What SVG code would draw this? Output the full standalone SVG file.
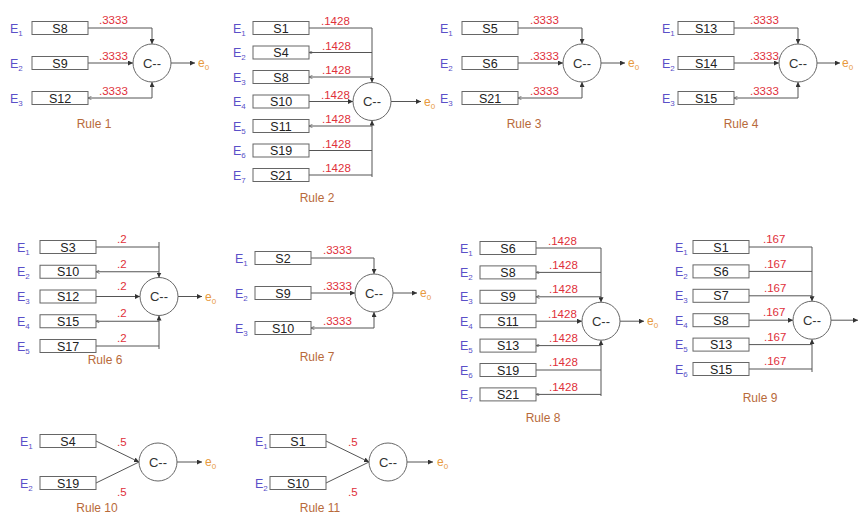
<svg xmlns="http://www.w3.org/2000/svg" width="860" height="514" viewBox="0 0 860 514">
<style>
text{font-family:"Liberation Sans",Arial,sans-serif}
.bx{fill:#fff;stroke:#666;stroke-width:1}
.bt{font-size:12.5px;fill:#222;text-anchor:middle}
.el{font-size:12.5px;fill:#5a50c8}
.sb{font-size:8px}
.cc{fill:#fff;stroke:#666;stroke-width:1}
.ct{font-size:13px;fill:#333;text-anchor:middle}
.ln{fill:none;stroke:#555;stroke-width:1}
.w{font-size:11.5px;fill:#e0303a}
.eo{font-size:12px;fill:#e89a3c}
.rt{font-size:12px;fill:#b86a3a;text-anchor:middle}
</style>
<defs>
<marker id="arr" viewBox="0 0 6 6" refX="6" refY="3" markerWidth="5" markerHeight="5" orient="auto"><path d="M0,0 L6,3 L0,6 z" fill="#333"/></marker>
<marker id="tip" viewBox="0 0 6 6" refX="0" refY="3" markerWidth="3.5" markerHeight="3.5" orient="auto"><path d="M6,0 L0,3 L6,6" fill="none" stroke="#555" stroke-width="1.2"/></marker>
</defs>
<rect width="860" height="514" fill="#fff"/>

<g id="connectors">
<path class="ln" d="M88,28 H152 V44" marker-end="url(#arr)"/>
<path class="ln" d="M88,63 H133" marker-end="url(#arr)"/>
<path class="ln" d="M88,98 H152 V82" marker-start="url(#tip)" marker-end="url(#arr)"/>
<path class="ln" d="M171,63 H195" marker-end="url(#arr)"/>
<path class="ln" d="M309,28 H372 V82.5" marker-end="url(#arr)"/>
<path class="ln" d="M309,52.5 H372" marker-start="url(#tip)"/>
<path class="ln" d="M309,77 H372" marker-start="url(#tip)"/>
<path class="ln" d="M309,101.5 H353" marker-end="url(#arr)"/>
<path class="ln" d="M372,177 V120.5" marker-end="url(#arr)"/>
<path class="ln" d="M309,126 H372" marker-start="url(#tip)"/>
<path class="ln" d="M309,150.5 H372"/>
<path class="ln" d="M309,175 H372"/>
<path class="ln" d="M391,101.5 H421" marker-end="url(#arr)"/>
<path class="ln" d="M518,28 H582 V44" marker-end="url(#arr)"/>
<path class="ln" d="M518,63 H563" marker-end="url(#arr)"/>
<path class="ln" d="M518,98 H582 V82" marker-start="url(#tip)" marker-end="url(#arr)"/>
<path class="ln" d="M601,63 H625" marker-end="url(#arr)"/>
<path class="ln" d="M734,28 H798 V44" marker-end="url(#arr)"/>
<path class="ln" d="M734,63 H779" marker-end="url(#arr)"/>
<path class="ln" d="M734,98 H798 V82" marker-start="url(#tip)" marker-end="url(#arr)"/>
<path class="ln" d="M817,63 H840" marker-end="url(#arr)"/>
<path class="ln" d="M159,242 V277.5" marker-end="url(#arr)"/>
<path class="ln" d="M96,247 H159"/>
<path class="ln" d="M96,271.75 H159" marker-start="url(#tip)"/>
<path class="ln" d="M96,296.5 H140" marker-end="url(#arr)"/>
<path class="ln" d="M159,349 V315.5" marker-end="url(#arr)"/>
<path class="ln" d="M96,321.25 H159" marker-start="url(#tip)"/>
<path class="ln" d="M96,346 H159"/>
<path class="ln" d="M178,296.5 H202" marker-end="url(#arr)"/>
<path class="ln" d="M311,258 H374 V274" marker-end="url(#arr)"/>
<path class="ln" d="M311,293 H355" marker-end="url(#arr)"/>
<path class="ln" d="M311,328 H374 V312" marker-start="url(#tip)" marker-end="url(#arr)"/>
<path class="ln" d="M393,293 H417" marker-end="url(#arr)"/>
<path class="ln" d="M536,248 H601 V302.2" marker-end="url(#arr)"/>
<path class="ln" d="M536,272.4 H601" marker-start="url(#tip)"/>
<path class="ln" d="M536,296.8 H601" marker-start="url(#tip)"/>
<path class="ln" d="M536,321.2 H582" marker-end="url(#arr)"/>
<path class="ln" d="M601,396 V340.2" marker-end="url(#arr)"/>
<path class="ln" d="M536,345.6 H601" marker-start="url(#tip)"/>
<path class="ln" d="M536,370 H601"/>
<path class="ln" d="M536,394.4 H601" marker-start="url(#tip)"/>
<path class="ln" d="M620,321.2 H644" marker-end="url(#arr)"/>
<path class="ln" d="M749,247 H812 V301.2" marker-end="url(#arr)"/>
<path class="ln" d="M749,271.4 H812"/>
<path class="ln" d="M749,295.8 H812"/>
<path class="ln" d="M749,320.2 H793" marker-end="url(#arr)"/>
<path class="ln" d="M812,372 V339.2" marker-end="url(#arr)"/>
<path class="ln" d="M749,344.6 H812"/>
<path class="ln" d="M749,369 H812"/>
<path class="ln" d="M831,320.2 H858" marker-end="url(#arr)"/>
<path class="ln" d="M96,441 L139,462" marker-end="url(#arr)"/>
<path class="ln" d="M96,483 L139,462"/>
<path class="ln" d="M177,462 H202" marker-end="url(#arr)"/>
<path class="ln" d="M326,441 L369,462" marker-end="url(#arr)"/>
<path class="ln" d="M326,483 L369,462"/>
<path class="ln" d="M407,462 H433" marker-end="url(#arr)"/>
</g>

<g id="weights">
<text class="w" x="99" y="24">.3333</text>
<text class="w" x="99" y="60">.3333</text>
<text class="w" x="99" y="95">.3333</text>
<text class="w" x="321" y="25">.1428</text>
<text class="w" x="322" y="49.5">.1428</text>
<text class="w" x="322" y="74">.1428</text>
<text class="w" x="321" y="98.5">.1428</text>
<text class="w" x="322" y="123">.1428</text>
<text class="w" x="322" y="147.5">.1428</text>
<text class="w" x="322" y="172">.1428</text>
<text class="w" x="530" y="24">.3333</text>
<text class="w" x="530" y="60">.3333</text>
<text class="w" x="530" y="95">.3333</text>
<text class="w" x="750" y="24">.3333</text>
<text class="w" x="750" y="60">.3333</text>
<text class="w" x="750" y="95">.3333</text>
<text class="w" x="117" y="243">.2</text>
<text class="w" x="117" y="268">.2</text>
<text class="w" x="117" y="290">.2</text>
<text class="w" x="117" y="317">.2</text>
<text class="w" x="117" y="342">.2</text>
<text class="w" x="323" y="254">.3333</text>
<text class="w" x="323" y="290">.3333</text>
<text class="w" x="323" y="325">.3333</text>
<text class="w" x="548" y="245">.1428</text>
<text class="w" x="549" y="269">.1428</text>
<text class="w" x="549" y="293">.1428</text>
<text class="w" x="548" y="318">.1428</text>
<text class="w" x="549" y="342">.1428</text>
<text class="w" x="549" y="366">.1428</text>
<text class="w" x="549" y="391">.1428</text>
<text class="w" x="763" y="243">.167</text>
<text class="w" x="764" y="268">.167</text>
<text class="w" x="764" y="292">.167</text>
<text class="w" x="763" y="316">.167</text>
<text class="w" x="764" y="341">.167</text>
<text class="w" x="764" y="365">.167</text>
<text class="w" x="117" y="446">.5</text>
<text class="w" x="117" y="496">.5</text>
<text class="w" x="348" y="446">.5</text>
<text class="w" x="348" y="496">.5</text>
</g>

<g id="r1-s8"><text class="el" x="10" y="32.5">E<tspan class="sb" dy="3">1</tspan></text><rect class="bx" x="32" y="21.5" width="56" height="13"/><text class="bt" x="60" y="32.5">S8</text></g>
<g id="r1-s9"><text class="el" x="10" y="67.5">E<tspan class="sb" dy="3">2</tspan></text><rect class="bx" x="32" y="56.5" width="56" height="13"/><text class="bt" x="60" y="67.5">S9</text></g>
<g id="r1-s12"><text class="el" x="10" y="102.5">E<tspan class="sb" dy="3">3</tspan></text><rect class="bx" x="32" y="91.5" width="56" height="13"/><text class="bt" x="60" y="102.5">S12</text></g>
<g id="r1-c"><circle class="cc" cx="152" cy="63" r="19"/><text class="ct" x="152" y="67.5">C--</text></g>
<g id="r1-e0"><text class="eo" x="198" y="67">e<tspan class="sb" dy="3">0</tspan></text></g>
<text class="rt" x="94" y="128">Rule 1</text>

<g id="r2-s1"><text class="el" x="233" y="32.5">E<tspan class="sb" dy="3">1</tspan></text><rect class="bx" x="253" y="21.5" width="56" height="13"/><text class="bt" x="281" y="32.5">S1</text></g>
<g id="r2-s4"><text class="el" x="233" y="57">E<tspan class="sb" dy="3">2</tspan></text><rect class="bx" x="253" y="46" width="56" height="13"/><text class="bt" x="281" y="57">S4</text></g>
<g id="r2-s8"><text class="el" x="233" y="81.5">E<tspan class="sb" dy="3">3</tspan></text><rect class="bx" x="253" y="70.5" width="56" height="13"/><text class="bt" x="281" y="81.5">S8</text></g>
<g id="r2-s10"><text class="el" x="233" y="106">E<tspan class="sb" dy="3">4</tspan></text><rect class="bx" x="253" y="95" width="56" height="13"/><text class="bt" x="281" y="106">S10</text></g>
<g id="r2-s11"><text class="el" x="233" y="130.5">E<tspan class="sb" dy="3">5</tspan></text><rect class="bx" x="253" y="119.5" width="56" height="13"/><text class="bt" x="281" y="130.5">S11</text></g>
<g id="r2-s19"><text class="el" x="233" y="155">E<tspan class="sb" dy="3">6</tspan></text><rect class="bx" x="253" y="144" width="56" height="13"/><text class="bt" x="281" y="155">S19</text></g>
<g id="r2-s21"><text class="el" x="233" y="179.5">E<tspan class="sb" dy="3">7</tspan></text><rect class="bx" x="253" y="168.5" width="56" height="13"/><text class="bt" x="281" y="179.5">S21</text></g>
<g id="r2-c"><circle class="cc" cx="372" cy="101.5" r="19"/><text class="ct" x="372" y="106">C--</text></g>
<g id="r2-e0"><text class="eo" x="424" y="105.5">e<tspan class="sb" dy="3">0</tspan></text></g>
<text class="rt" x="317" y="202">Rule 2</text>

<g id="r3-s5"><text class="el" x="440" y="32.5">E<tspan class="sb" dy="3">1</tspan></text><rect class="bx" x="462" y="21.5" width="56" height="13"/><text class="bt" x="490" y="32.5">S5</text></g>
<g id="r3-s6"><text class="el" x="440" y="67.5">E<tspan class="sb" dy="3">2</tspan></text><rect class="bx" x="462" y="56.5" width="56" height="13"/><text class="bt" x="490" y="67.5">S6</text></g>
<g id="r3-s21"><text class="el" x="440" y="102.5">E<tspan class="sb" dy="3">3</tspan></text><rect class="bx" x="462" y="91.5" width="56" height="13"/><text class="bt" x="490" y="102.5">S21</text></g>
<g id="r3-c"><circle class="cc" cx="582" cy="63" r="19"/><text class="ct" x="582" y="67.5">C--</text></g>
<g id="r3-e0"><text class="eo" x="628" y="67">e<tspan class="sb" dy="3">0</tspan></text></g>
<text class="rt" x="524" y="128">Rule 3</text>

<g id="r4-s13"><text class="el" x="662" y="32.5">E<tspan class="sb" dy="3">1</tspan></text><rect class="bx" x="678" y="21.5" width="56" height="13"/><text class="bt" x="706" y="32.5">S13</text></g>
<g id="r4-s14"><text class="el" x="662" y="67.5">E<tspan class="sb" dy="3">2</tspan></text><rect class="bx" x="678" y="56.5" width="56" height="13"/><text class="bt" x="706" y="67.5">S14</text></g>
<g id="r4-s15"><text class="el" x="662" y="102.5">E<tspan class="sb" dy="3">3</tspan></text><rect class="bx" x="678" y="91.5" width="56" height="13"/><text class="bt" x="706" y="102.5">S15</text></g>
<g id="r4-c"><circle class="cc" cx="798" cy="63" r="19"/><text class="ct" x="798" y="67.5">C--</text></g>
<g id="r4-e0"><text class="eo" x="842" y="67">e<tspan class="sb" dy="3">0</tspan></text></g>
<text class="rt" x="741" y="128">Rule 4</text>

<g id="r6-s3"><text class="el" x="17" y="251.5">E<tspan class="sb" dy="3">1</tspan></text><rect class="bx" x="40" y="240.5" width="56" height="13"/><text class="bt" x="68" y="251.5">S3</text></g>
<g id="r6-s10"><text class="el" x="17" y="276.25">E<tspan class="sb" dy="3">2</tspan></text><rect class="bx" x="40" y="265.25" width="56" height="13"/><text class="bt" x="68" y="276.25">S10</text></g>
<g id="r6-s12"><text class="el" x="17" y="301">E<tspan class="sb" dy="3">3</tspan></text><rect class="bx" x="40" y="290" width="56" height="13"/><text class="bt" x="68" y="301">S12</text></g>
<g id="r6-s15"><text class="el" x="17" y="325.75">E<tspan class="sb" dy="3">4</tspan></text><rect class="bx" x="40" y="314.75" width="56" height="13"/><text class="bt" x="68" y="325.75">S15</text></g>
<g id="r6-s17"><text class="el" x="17" y="350.5">E<tspan class="sb" dy="3">5</tspan></text><rect class="bx" x="40" y="339.5" width="56" height="13"/><text class="bt" x="68" y="350.5">S17</text></g>
<g id="r6-c"><circle class="cc" cx="159" cy="296.5" r="19"/><text class="ct" x="159" y="301">C--</text></g>
<g id="r6-e0"><text class="eo" x="205" y="300.5">e<tspan class="sb" dy="3">0</tspan></text></g>
<text class="rt" x="105" y="364">Rule 6</text>

<g id="r7-s2"><text class="el" x="235" y="262.5">E<tspan class="sb" dy="3">1</tspan></text><rect class="bx" x="255" y="251.5" width="56" height="13"/><text class="bt" x="283" y="262.5">S2</text></g>
<g id="r7-s9"><text class="el" x="235" y="297.5">E<tspan class="sb" dy="3">2</tspan></text><rect class="bx" x="255" y="286.5" width="56" height="13"/><text class="bt" x="283" y="297.5">S9</text></g>
<g id="r7-s10"><text class="el" x="235" y="332.5">E<tspan class="sb" dy="3">3</tspan></text><rect class="bx" x="255" y="321.5" width="56" height="13"/><text class="bt" x="283" y="332.5">S10</text></g>
<g id="r7-c"><circle class="cc" cx="374" cy="293" r="19"/><text class="ct" x="374" y="297.5">C--</text></g>
<g id="r7-e0"><text class="eo" x="420" y="297">e<tspan class="sb" dy="3">0</tspan></text></g>
<text class="rt" x="317" y="361">Rule 7</text>

<g id="r8-s6"><text class="el" x="460" y="252.5">E<tspan class="sb" dy="3">1</tspan></text><rect class="bx" x="480" y="241.5" width="56" height="13"/><text class="bt" x="508" y="252.5">S6</text></g>
<g id="r8-s8"><text class="el" x="460" y="276.9">E<tspan class="sb" dy="3">2</tspan></text><rect class="bx" x="480" y="265.9" width="56" height="13"/><text class="bt" x="508" y="276.9">S8</text></g>
<g id="r8-s9"><text class="el" x="460" y="301.3">E<tspan class="sb" dy="3">3</tspan></text><rect class="bx" x="480" y="290.3" width="56" height="13"/><text class="bt" x="508" y="301.3">S9</text></g>
<g id="r8-s11"><text class="el" x="460" y="325.7">E<tspan class="sb" dy="3">4</tspan></text><rect class="bx" x="480" y="314.7" width="56" height="13"/><text class="bt" x="508" y="325.7">S11</text></g>
<g id="r8-s13"><text class="el" x="460" y="350.1">E<tspan class="sb" dy="3">5</tspan></text><rect class="bx" x="480" y="339.1" width="56" height="13"/><text class="bt" x="508" y="350.1">S13</text></g>
<g id="r8-s19"><text class="el" x="460" y="374.5">E<tspan class="sb" dy="3">6</tspan></text><rect class="bx" x="480" y="363.5" width="56" height="13"/><text class="bt" x="508" y="374.5">S19</text></g>
<g id="r8-s21"><text class="el" x="460" y="398.9">E<tspan class="sb" dy="3">7</tspan></text><rect class="bx" x="480" y="387.9" width="56" height="13"/><text class="bt" x="508" y="398.9">S21</text></g>
<g id="r8-c"><circle class="cc" cx="601" cy="321.2" r="19"/><text class="ct" x="601" y="325.7">C--</text></g>
<g id="r8-e0"><text class="eo" x="647" y="325.2">e<tspan class="sb" dy="3">0</tspan></text></g>
<text class="rt" x="543" y="422">Rule 8</text>

<g id="r9-s1"><text class="el" x="675" y="251.5">E<tspan class="sb" dy="3">1</tspan></text><rect class="bx" x="693" y="240.5" width="56" height="13"/><text class="bt" x="721" y="251.5">S1</text></g>
<g id="r9-s6"><text class="el" x="675" y="275.9">E<tspan class="sb" dy="3">2</tspan></text><rect class="bx" x="693" y="264.9" width="56" height="13"/><text class="bt" x="721" y="275.9">S6</text></g>
<g id="r9-s7"><text class="el" x="675" y="300.3">E<tspan class="sb" dy="3">3</tspan></text><rect class="bx" x="693" y="289.3" width="56" height="13"/><text class="bt" x="721" y="300.3">S7</text></g>
<g id="r9-s8"><text class="el" x="675" y="324.7">E<tspan class="sb" dy="3">4</tspan></text><rect class="bx" x="693" y="313.7" width="56" height="13"/><text class="bt" x="721" y="324.7">S8</text></g>
<g id="r9-s13"><text class="el" x="675" y="349.1">E<tspan class="sb" dy="3">5</tspan></text><rect class="bx" x="693" y="338.1" width="56" height="13"/><text class="bt" x="721" y="349.1">S13</text></g>
<g id="r9-s15"><text class="el" x="675" y="373.5">E<tspan class="sb" dy="3">6</tspan></text><rect class="bx" x="693" y="362.5" width="56" height="13"/><text class="bt" x="721" y="373.5">S15</text></g>
<g id="r9-c"><circle class="cc" cx="812" cy="320.2" r="19"/><text class="ct" x="812" y="324.7">C--</text></g>
<text class="rt" x="760" y="402">Rule 9</text>

<g id="r10-s4"><text class="el" x="20" y="445.5">E<tspan class="sb" dy="3">1</tspan></text><rect class="bx" x="40" y="434.5" width="56" height="13"/><text class="bt" x="68" y="445.5">S4</text></g>
<g id="r10-s19"><text class="el" x="20" y="487.5">E<tspan class="sb" dy="3">2</tspan></text><rect class="bx" x="40" y="476.5" width="56" height="13"/><text class="bt" x="68" y="487.5">S19</text></g>
<g id="r10-c"><circle class="cc" cx="158" cy="462" r="19"/><text class="ct" x="158" y="466.5">C--</text></g>
<g id="r10-e0"><text class="eo" x="205" y="466">e<tspan class="sb" dy="3">0</tspan></text></g>
<text class="rt" x="97" y="512">Rule 10</text>

<g id="r11-s1"><text class="el" x="255" y="445.5">E<tspan class="sb" dy="3">1</tspan></text><rect class="bx" x="270" y="434.5" width="56" height="13"/><text class="bt" x="298" y="445.5">S1</text></g>
<g id="r11-s10"><text class="el" x="255" y="487.5">E<tspan class="sb" dy="3">2</tspan></text><rect class="bx" x="270" y="476.5" width="56" height="13"/><text class="bt" x="298" y="487.5">S10</text></g>
<g id="r11-c"><circle class="cc" cx="388" cy="462" r="19"/><text class="ct" x="388" y="466.5">C--</text></g>
<g id="r11-e0"><text class="eo" x="437" y="466">e<tspan class="sb" dy="3">0</tspan></text></g>
<text class="rt" x="320" y="512">Rule 11</text>
</svg>
